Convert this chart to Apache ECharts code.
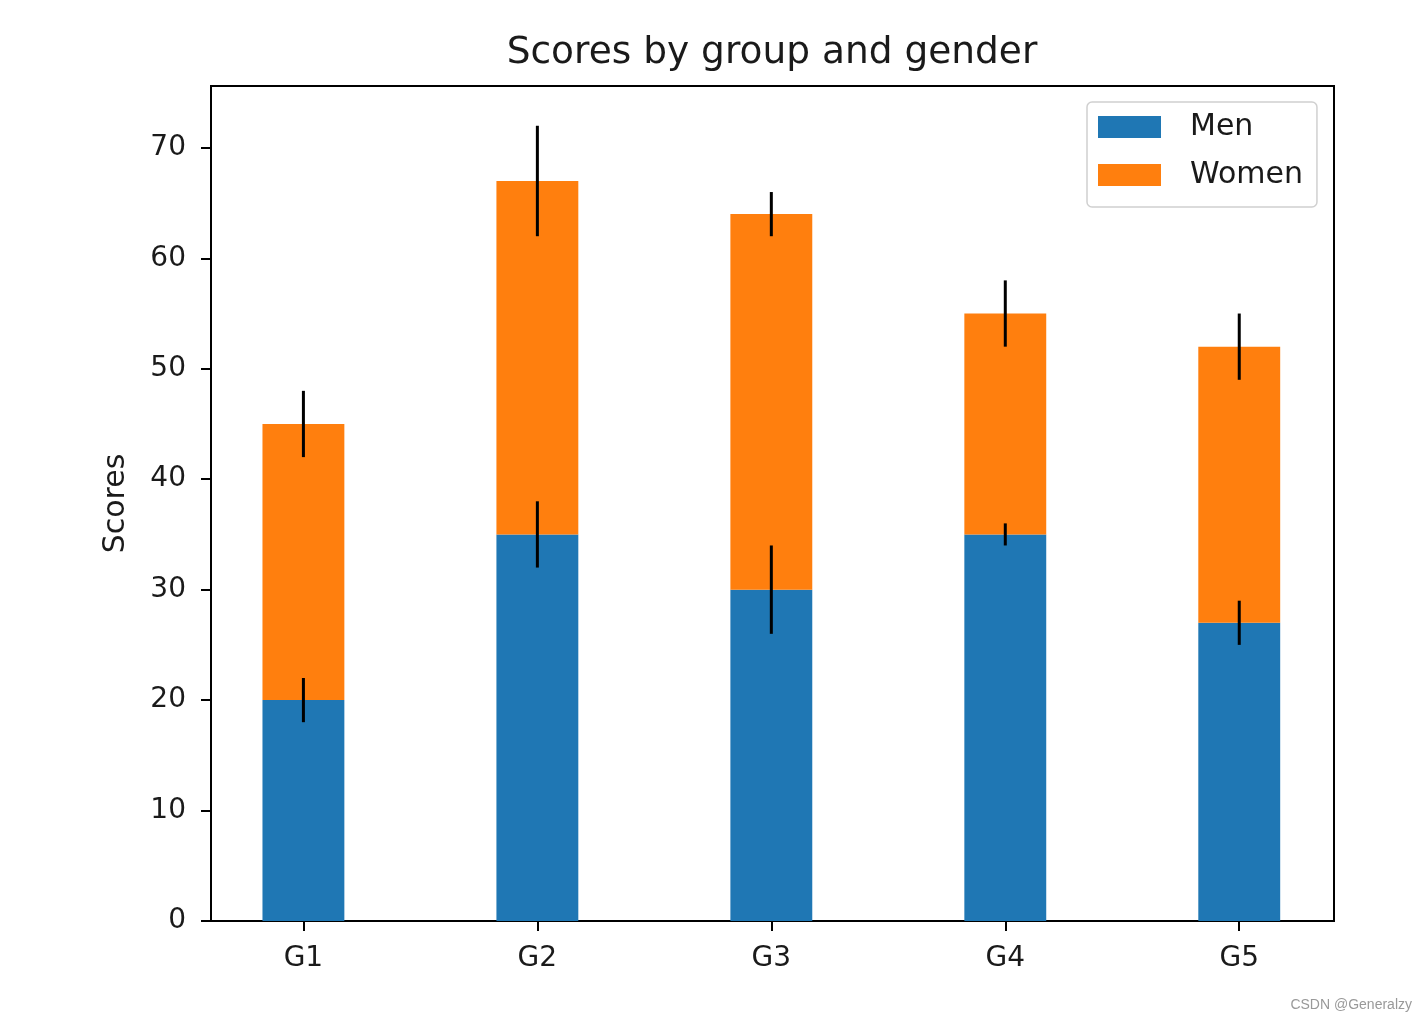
<!DOCTYPE html>
<html>
<head>
<meta charset="utf-8">
<script src="https://cdn.jsdelivr.net/npm/echarts@6/dist/echarts.min.js"></script>
<style>
html,body{margin:0;padding:0;background:#fff;}
#chart{width:1428px;height:1020px;}
</style>
</head>
<body>
<div id="chart"></div>
<script>
const categories = ['G1', 'G2', 'G3', 'G4', 'G5'];
const menMeans = [20, 35, 30, 35, 27];
const womenMeans = [25, 32, 34, 20, 25];
const menStd = [2, 3, 4, 1, 2];
const womenStd = [3, 5, 2, 3, 3];
const yTickValues = [0, 10, 20, 30, 40, 50, 60, 70];
const barWidth = 0.35;

const positions = categories.map((c, i) => i);
const menData = positions.map(i => [i, 0, menMeans[i]]);
const womenData = positions.map(i => [i, menMeans[i], womenMeans[i]]);
const errData = positions.map(i => [i, menMeans[i], menStd[i]])
  .concat(positions.map(i => [i, menMeans[i] + womenMeans[i], womenStd[i]]));

const FONT = 'DejaVu Sans';
const TXT = '#1a1a1a';

function barRender(params, api) {
  const x = api.value(0), b = api.value(1), v = api.value(2);
  const p0 = api.coord([x - barWidth / 2, b]);
  const p1 = api.coord([x + barWidth / 2, b + v]);
  return {
    type: 'rect',
    shape: { x: p0[0], y: p1[1], width: p1[0] - p0[0], height: p0[1] - p1[1] },
    style: { fill: api.visual('color') }
  };
}
function errRender(params, api) {
  const x = api.value(0), c = api.value(1), s = api.value(2);
  const a = api.coord([x, c - s]);
  const b = api.coord([x, c + s]);
  return {
    type: 'line',
    shape: { x1: a[0], y1: a[1], x2: b[0], y2: b[1] },
    style: { stroke: '#000', lineWidth: 3 }
  };
}

const chart = echarts.init(document.getElementById('chart'));
chart.setOption({
  animation: false,
  backgroundColor: '#fff',
  textStyle: { fontFamily: FONT },
  title: {
    text: 'Scores by group and gender',
    left: 767, textAlign: 'center', top: 29,
    textStyle: { fontFamily: FONT, fontSize: 37.5, fontWeight: 'normal', color: TXT }
  },
  legend: {
    orient: 'vertical',
    left: 1087, top: 102,
    data: [{ name: 'Men', icon: 'rect' }, { name: 'Women', icon: 'rect' }],
    itemWidth: 63, itemHeight: 22, itemGap: 18,
    padding: [10, 14, 17, 11],
    borderColor: '#d0d0d0', borderWidth: 1.5, borderRadius: 5,
    backgroundColor: '#fff',
    textStyle: { fontFamily: FONT, fontSize: 30, color: TXT, padding: [0, 0, 0, 24] }
  },
  graphic: [{
    type: 'text', right: 16, bottom: 8,
    style: { text: 'CSDN @Generalzy', fontFamily: 'Liberation Sans', fontSize: 14, fill: '#999' }
  }],
  grid: {
    left: 211, right: 94, top: 86, bottom: 99,
    show: true, borderColor: '#000', borderWidth: 2, backgroundColor: 'transparent'
  },
  xAxis: {
    type: 'value', min: -0.395, max: 4.405,
    splitLine: { show: false },
    axisLine: { show: false, onZero: false },
    axisTick: { show: true, customValues: positions, length: 10, lineStyle: { color: '#000', width: 2 } },
    axisLabel: {
      customValues: positions, margin: 24,
      formatter: v => categories[Math.round(v)],
      fontFamily: FONT, fontSize: 28, color: TXT
    }
  },
  yAxis: {
    type: 'value', min: 0, max: 75.6,
    name: 'Scores', nameLocation: 'middle', nameRotate: 90, nameGap: 80,
    nameTextStyle: { fontFamily: FONT, fontSize: 30, color: TXT },
    splitLine: { show: false },
    axisLine: { show: false, onZero: false },
    axisTick: { show: true, customValues: yTickValues, length: 10, lineStyle: { color: '#000', width: 2 } },
    axisLabel: {
      customValues: yTickValues, margin: 25,
      fontFamily: FONT, fontSize: 28, color: TXT
    }
  },
  series: [
    { name: 'Men', type: 'custom', renderItem: barRender, data: menData,
      itemStyle: { color: '#1f77b4' }, encode: { x: 0, y: 2 }, z: 2 },
    { name: 'Women', type: 'custom', renderItem: barRender, data: womenData,
      itemStyle: { color: '#ff7f0e' }, encode: { x: 0, y: 2 }, z: 2 },
    { name: 'err', type: 'custom', renderItem: errRender, data: errData,
      encode: { x: 0, y: 1 }, z: 3, silent: true }
  ]
});
</script>
</body>
</html>
